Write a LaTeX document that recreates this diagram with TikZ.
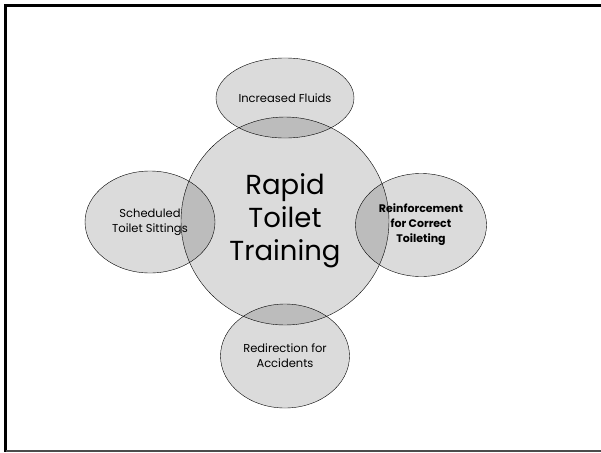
\documentclass[tikz,border=0pt]{standalone}
\usepackage{fontspec}
\setmainfont{Poppins}
\usetikzlibrary{shapes.geometric}

\begin{document}
\begin{tikzpicture}[
    x=1pt, y=-1pt,
    thin,
    black,
    ]

    % Determines the boundries
    \path[use as bounding box] (0,0) rectangle (601,452);

    % the slide frame
    \draw[line width=3pt, black] (601,5.5) -- (5.5,5.5) -- (5.5,452);
    \draw[line width=1.8pt, black!70] (5.5,451) -- (601,451);

    \def\hubR{104}          % radius of the hub
    \def\shade{0.14}        % opacity of the fills

    \tikzset{
        hub/.style  = {circle, draw, fill = black, fill opacity = \shade,
                       text opacity = 1, minimum size = 2*\hubR pt,
                       inner sep = 0pt, align = center},
        petal/.style = {ellipse, draw, fill = black, fill opacity = \shade,
                       text opacity = 1, inner sep = 0pt, align = center,
                       font = \fontsize{11.5}{15}\selectfont},
    }

    % The hub
    \node[hub, font = \fontsize{27.5}{33}\selectfont] (hub) at (285,221)
        {Rapid\\Toilet\\Training};

    % The petals round the hub
    \node[petal, minimum width = 138pt, minimum height = 80pt]  (fluids) at (285,98)
        {Increased Fluids};
    \node[petal, minimum width = 130pt, minimum height = 102pt] (sched)  at (150,222)
        {Scheduled\\Toilet Sittings};
    \node[petal, minimum width = 131pt, minimum height = 103pt,
          font = \fontsize{11}{15}\selectfont\bfseries]           (reinf)  at (421,225)
        {Reinforcement\\for Correct\\Toileting};
    \node[petal, minimum width = 129pt, minimum height = 104pt] (redir)  at (285,356)
        {Redirection for\\Accidents};
\end{tikzpicture}
\end{document}
